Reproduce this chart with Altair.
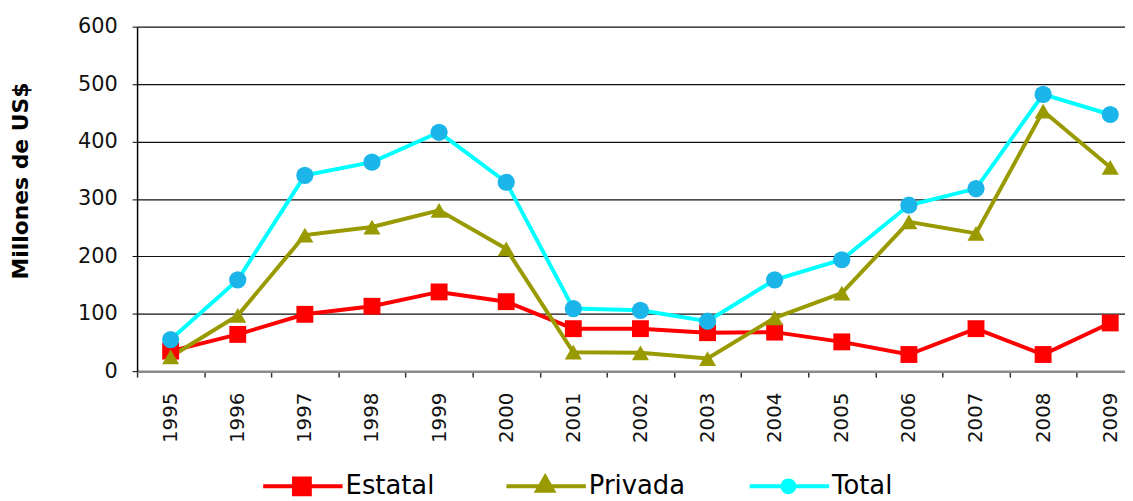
import altair as alt
import pandas as pd

years = list(range(1995, 2010))
estatal = [35, 64, 99, 113, 138, 121, 74, 74, 67, 68, 51, 29, 74, 29, 84]
privada = [25, 97, 237, 251, 280, 213, 33, 32, 22, 93, 136, 260, 240, 453, 355]
total = [55, 159, 341, 364, 416, 329, 109, 106, 87, 159, 194, 289, 318, 482, 447]

series = ["Estatal", "Privada", "Total"]
line_colors = ["#FF0000", "#999900", "#00FFFF"]
marker_colors = ["#FF0000", "#999900", "#1CB5EA"]
marker_shapes = ["square", "triangle-up", "circle"]
marker_sizes = [289, 300, 220]

# legend symbols: a line segment with the marker on it
legend_paths = [
    "M-1,-0.2L7,-0.2L7,0.2L-1,0.2Z M1.9,-1L3.9,-1L3.9,1L1.9,1Z",
    "M-1,-0.2L7,-0.2L7,0.2L-1,0.2Z M2.9,-1.35L4.05,0.65L1.75,0.65Z",
    "M-1,-0.2L7,-0.2L7,0.2L-1,0.2Z M2.1,0A0.8,0.8 0 1,1 3.7,0A0.8,0.8 0 1,1 2.1,0Z",
]

rows = []
for name, vals in zip(series, [estatal, privada, total]):
    for yr, v in zip(years, vals):
        rows.append({"Año": yr, "Valor": v, "Serie": name})
df = pd.DataFrame(rows)

FONT = "DejaVu Sans"
band = 995 / (2009.22 - 1994.5)

x_enc = alt.X(
    "Año:Q",
    scale=alt.Scale(domain=[1994.5, 2009.22], nice=False, zero=False),
    axis=alt.Axis(
        values=years,
        format="d",
        title=None,
        tickOffset=-band / 2,
        labelOffset=band / 2,
        labelAngle=270,
        labelFont=FONT,
        labelFontSize=20,
        labelColor="#111111",
        labelPadding=15,
        tickSize=6,
        tickColor="#333333",
        tickWidth=1.5,
        domainColor="#8a8a8a",
        domainWidth=2.5,
        grid=False,
        labelFlush=False,
        labelOverlap=False,
    ),
)
y_enc = alt.Y(
    "Valor:Q",
    scale=alt.Scale(domain=[0, 600], nice=False),
    axis=alt.Axis(
        values=[0, 100, 200, 300, 400, 500, 600],
        title="Millones de US$",
        titleFont=FONT,
        titleFontSize=22,
        titleFontWeight="bold",
        titleColor="black",
        titleAngle=270,
        titleX=-117,
        titleY=155,
        titleAlign="center",
        titleBaseline="middle",
        labelFont=FONT,
        labelFontSize=21,
        labelColor="#111111",
        labelPadding=15,
        tickSize=5,
        tickColor="black",
        domainColor="black",
        domainWidth=1.5,
        grid=True,
        gridColor="#111111",
        gridWidth=1.2,
    ),
)

lines = alt.Chart(df).mark_line(strokeWidth=4).encode(
    x=x_enc,
    y=y_enc,
    color=alt.Color("Serie:N", scale=alt.Scale(domain=series, range=line_colors), legend=None),
    detail="Serie:N",
)

markers = alt.Chart(df).mark_point(filled=True, opacity=1, strokeWidth=0).encode(
    x=x_enc,
    y=y_enc,
    fill=alt.Fill("Serie:N", scale=alt.Scale(domain=series, range=marker_colors), legend=None),
    shape=alt.Shape("Serie:N", scale=alt.Scale(domain=series, range=marker_shapes), legend=None),
    size=alt.Size("Serie:N", scale=alt.Scale(domain=series, range=marker_sizes), legend=None),
)

legend_def = alt.Legend(
    title=None,
    orient="none",
    direction="horizontal",
    legendX=124,
    legendY=450,
    padding=0,
    symbolSize=400,
    symbolStrokeWidth=0,
    symbolOpacity=1,
    labelOffset=60,
    labelFont=FONT,
    labelFontSize=26,
    labelColor="black",
    labelLimit=400,
    columnPadding=62,
    gridAlign="all",
)

legend_layer = alt.Chart(df).transform_filter("datum.Valor < 0").mark_point(
    filled=True, opacity=1
).encode(
    x=x_enc,
    y=y_enc,
    color=alt.Color("Serie:N", scale=alt.Scale(domain=series, range=line_colors), legend=legend_def),
    shape=alt.Shape("Serie:N", scale=alt.Scale(domain=series, range=legend_paths), legend=legend_def),
)

chart = (
    alt.layer(lines, markers, legend_layer)
    .resolve_scale(shape="independent", color="independent")
    .properties(
        width=995,
        height=347,
        autosize=alt.AutoSizeParams(type="none"),
        padding={"left": 130, "top": 17, "right": 0, "bottom": 129},
        background="white",
    )
    .configure_view(stroke=None)
)

chart.save("out.html", embed_options={"renderer": "svg", "actions": False})
